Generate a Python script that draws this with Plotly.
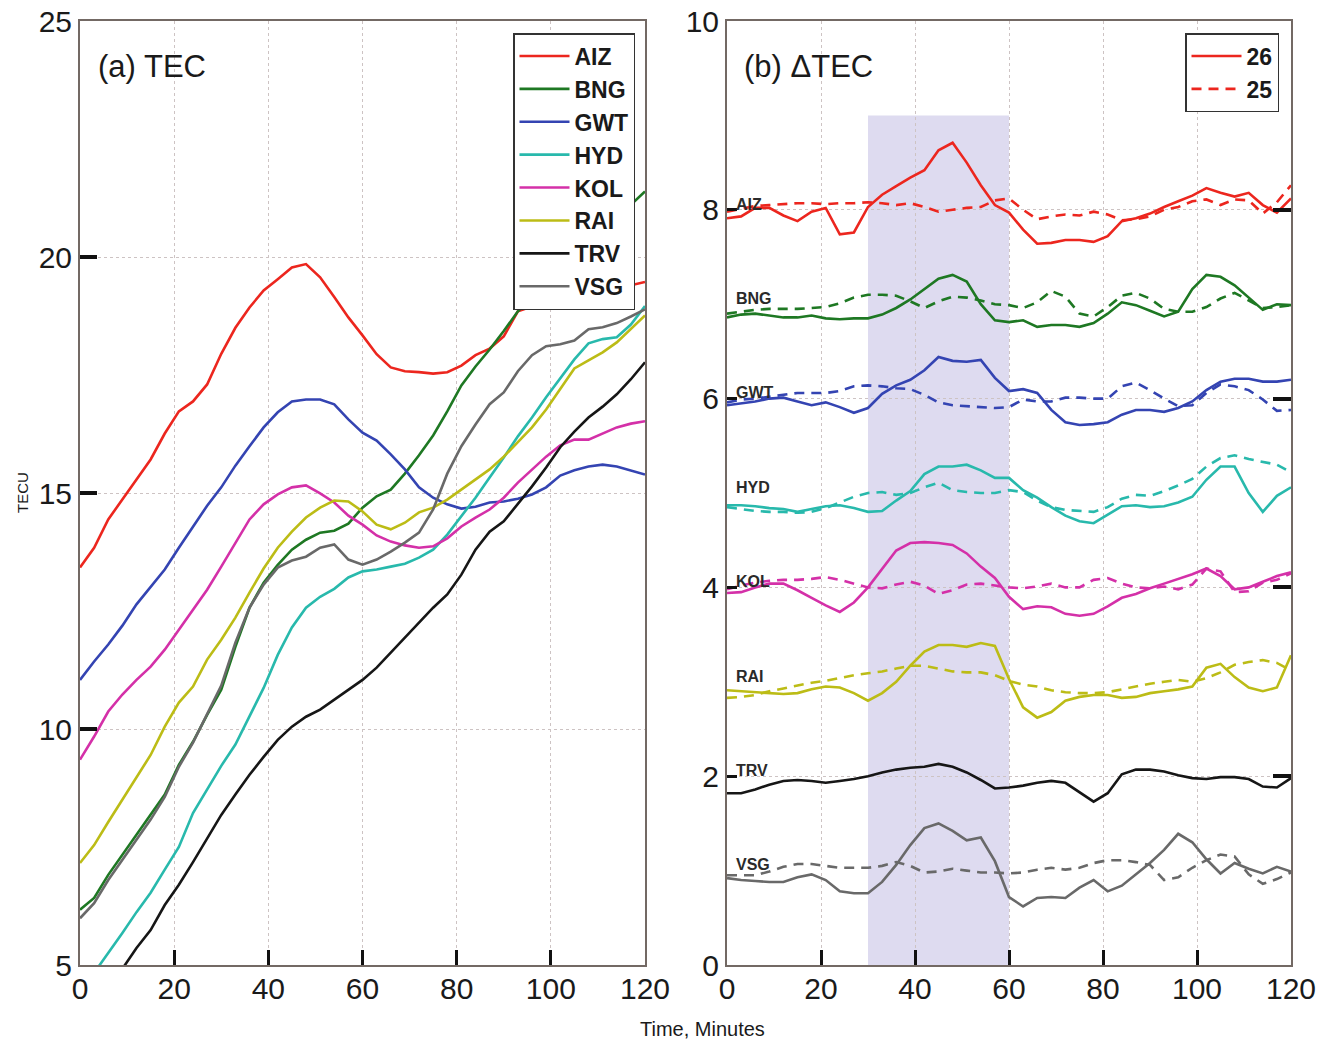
import plotly.graph_objects as go

# ---------------- data ----------------
time_min = list(range(0, 121, 3))  # minutes

stations = ["AIZ", "BNG", "GWT", "HYD", "KOL", "RAI", "TRV", "VSG"]
station_colors = ["rgb(236,38,30)", "rgb(30,120,35)", "rgb(52,68,178)", "rgb(40,185,172)",
                  "rgb(212,48,168)", "rgb(188,188,22)", "rgb(22,22,22)", "rgb(105,105,105)"]

# (a) TEC, TECU
tec_aiz = [13.42, 13.84, 14.44, 14.86, 15.27, 15.71, 16.26, 16.73, 16.94, 17.30, 17.95,
           18.50, 18.93, 19.29, 19.53, 19.78, 19.85, 19.57, 19.15, 18.72, 18.34,
           17.94, 17.66, 17.58, 17.56, 17.53, 17.56, 17.70, 17.92, 18.06, 18.32,
           18.85, 18.95, 19.02, 19.08, 19.14, 19.20, 19.27, 19.33, 19.40, 19.47]
tec_bng = [6.17, 6.42, 6.91, 7.33, 7.76, 8.18, 8.61, 9.24, 9.73, 10.30, 10.83,
           11.74, 12.57, 13.10, 13.48, 13.80, 14.01, 14.16, 14.20, 14.35, 14.69,
           14.93, 15.07, 15.41, 15.80, 16.22, 16.73, 17.28, 17.68, 18.04, 18.43,
           18.85, 19.13, 19.41, 19.70, 19.98, 20.26, 20.54, 20.83, 21.11, 21.39]
tec_gwt = [11.04, 11.43, 11.79, 12.19, 12.64, 13.02, 13.38, 13.84, 14.29, 14.73, 15.12,
           15.58, 15.99, 16.39, 16.71, 16.94, 16.98, 16.98, 16.88, 16.56, 16.28,
           16.11, 15.82, 15.50, 15.12, 14.90, 14.76, 14.67, 14.71, 14.80, 14.82,
           14.88, 14.97, 15.12, 15.37, 15.48, 15.56, 15.60, 15.56, 15.48, 15.39]
tec_hyd = [4.41, 4.83, 5.25, 5.68, 6.12, 6.53, 7.02, 7.50, 8.22, 8.71, 9.22,
           9.67, 10.26, 10.87, 11.57, 12.15, 12.57, 12.80, 12.97, 13.21, 13.34,
           13.38, 13.44, 13.50, 13.63, 13.80, 14.12, 14.52, 14.90, 15.33, 15.75,
           16.20, 16.60, 17.03, 17.43, 17.83, 18.17, 18.26, 18.30, 18.57, 18.96]
tec_kol = [9.35, 9.84, 10.37, 10.73, 11.04, 11.32, 11.68, 12.10, 12.53, 12.95, 13.44,
           13.95, 14.44, 14.76, 14.97, 15.12, 15.16, 14.99, 14.80, 14.52, 14.33,
           14.10, 13.97, 13.89, 13.84, 13.87, 14.04, 14.29, 14.48, 14.65, 14.90,
           15.22, 15.50, 15.77, 16.01, 16.13, 16.13, 16.26, 16.39, 16.47, 16.52]
tec_rai = [7.16, 7.54, 8.03, 8.50, 8.97, 9.45, 10.05, 10.56, 10.90, 11.47, 11.89,
           12.36, 12.89, 13.40, 13.84, 14.18, 14.48, 14.69, 14.84, 14.82, 14.61,
           14.33, 14.23, 14.37, 14.59, 14.69, 14.86, 15.07, 15.29, 15.50, 15.77,
           16.07, 16.39, 16.77, 17.20, 17.64, 17.81, 17.98, 18.19, 18.47, 18.76]
tec_trv = [3.77, 4.15, 4.53, 4.92, 5.36, 5.74, 6.27, 6.70, 7.18, 7.69, 8.18,
           8.61, 9.03, 9.41, 9.77, 10.05, 10.26, 10.41, 10.62, 10.83, 11.04,
           11.30, 11.62, 11.94, 12.27, 12.57, 12.85, 13.27, 13.80, 14.18, 14.40,
           14.76, 15.14, 15.54, 15.97, 16.30, 16.60, 16.83, 17.09, 17.41, 17.77]
tec_vsg = [5.99, 6.31, 6.80, 7.23, 7.65, 8.08, 8.56, 9.20, 9.71, 10.30, 10.92,
           11.83, 12.57, 13.06, 13.42, 13.57, 13.65, 13.84, 13.91, 13.59, 13.48,
           13.59, 13.76, 13.95, 14.16, 14.65, 15.41, 15.99, 16.45, 16.88, 17.13,
           17.58, 17.92, 18.11, 18.15, 18.23, 18.47, 18.51, 18.60, 18.74, 18.89]

# (b) dTEC, offset per station; day 26 (solid) and day 25 (dashed)
dtec_offsets = [8, 7, 6, 5, 4, 3, 2, 1]

d26_aiz = [7.91, 7.93, 8.02, 8.02, 7.94, 7.88, 7.98, 8.02, 7.74, 7.76, 8.03,
           8.16, 8.25, 8.34, 8.42, 8.63, 8.71, 8.50, 8.26, 8.05, 7.97,
           7.79, 7.64, 7.65, 7.68, 7.68, 7.66, 7.72, 7.88, 7.91, 7.96,
           8.03, 8.09, 8.15, 8.23, 8.18, 8.14, 8.18, 8.05, 7.97, 8.12]
d25_aiz = [7.98, 8.01, 8.04, 8.05, 8.06, 8.07, 8.07, 8.06, 8.07, 8.07, 8.08,
           8.07, 8.05, 8.07, 8.03, 7.98, 8.00, 8.02, 8.03, 8.10, 8.12,
           8.00, 7.90, 7.93, 7.95, 7.94, 7.98, 7.95, 7.89, 7.90, 7.93,
           8.00, 8.03, 8.09, 8.11, 8.05, 8.11, 8.10, 7.96, 8.08, 8.26]
d26_bng = [6.86, 6.89, 6.90, 6.88, 6.86, 6.86, 6.88, 6.85, 6.84, 6.85, 6.85,
           6.89, 6.96, 7.05, 7.16, 7.27, 7.31, 7.24, 7.00, 6.83, 6.81,
           6.83, 6.76, 6.78, 6.78, 6.76, 6.80, 6.90, 7.02, 6.99, 6.93,
           6.87, 6.92, 7.16, 7.31, 7.29, 7.20, 7.07, 6.94, 7.00, 6.99]
d25_bng = [6.90, 6.92, 6.94, 6.95, 6.95, 6.95, 6.96, 6.97, 7.01, 7.07, 7.10,
           7.10, 7.09, 7.03, 6.96, 7.03, 7.08, 7.07, 7.04, 7.00, 6.99,
           6.96, 7.02, 7.14, 7.08, 6.90, 6.87, 6.97, 7.09, 7.12, 7.06,
           6.95, 6.92, 6.92, 6.97, 7.06, 7.12, 7.04, 6.96, 6.97, 6.99]
d26_gwt = [5.93, 5.95, 5.97, 6.00, 6.01, 5.97, 5.93, 5.96, 5.91, 5.85, 5.90,
           6.05, 6.14, 6.20, 6.30, 6.44, 6.40, 6.39, 6.41, 6.22, 6.08,
           6.10, 6.06, 5.88, 5.75, 5.72, 5.73, 5.75, 5.83, 5.88, 5.88,
           5.86, 5.90, 5.97, 6.09, 6.18, 6.21, 6.21, 6.18, 6.18, 6.20]
d25_gwt = [5.96, 5.99, 6.00, 6.02, 6.04, 6.06, 6.06, 6.06, 6.08, 6.13, 6.14,
           6.13, 6.11, 6.10, 6.04, 5.96, 5.93, 5.92, 5.91, 5.90, 5.91,
           5.99, 5.97, 5.97, 6.01, 6.01, 6.00, 6.00, 6.13, 6.17, 6.09,
           6.00, 5.92, 5.93, 6.06, 6.15, 6.13, 6.09, 5.99, 5.87, 5.88]
d26_hyd = [4.87, 4.87, 4.86, 4.84, 4.83, 4.80, 4.83, 4.86, 4.87, 4.84, 4.80,
           4.81, 4.92, 5.02, 5.20, 5.28, 5.28, 5.30, 5.24, 5.16, 5.16,
           5.03, 4.95, 4.85, 4.76, 4.70, 4.68, 4.77, 4.86, 4.87, 4.85,
           4.86, 4.90, 4.96, 5.14, 5.28, 5.28, 5.00, 4.80, 4.97, 5.06]
d25_hyd = [4.85, 4.83, 4.81, 4.80, 4.80, 4.79, 4.80, 4.84, 4.90, 4.96, 5.00,
           5.01, 4.98, 5.00, 5.06, 5.11, 5.03, 5.01, 5.00, 5.00, 5.03,
           5.01, 4.92, 4.85, 4.82, 4.81, 4.80, 4.85, 4.94, 4.98, 4.97,
           5.02, 5.08, 5.15, 5.28, 5.37, 5.40, 5.36, 5.33, 5.30, 5.22]
d26_kol = [3.94, 3.95, 4.00, 4.04, 4.04, 3.97, 3.89, 3.81, 3.74, 3.84, 4.00,
           4.20, 4.39, 4.47, 4.48, 4.47, 4.45, 4.36, 4.22, 4.10, 3.90,
           3.77, 3.80, 3.79, 3.72, 3.70, 3.72, 3.80, 3.89, 3.93, 3.99,
           4.04, 4.09, 4.14, 4.20, 4.12, 3.98, 4.00, 4.06, 4.12, 4.16]
d25_kol = [3.98, 4.02, 4.05, 4.07, 4.08, 4.08, 4.09, 4.11, 4.08, 4.04, 4.00,
           3.99, 4.03, 4.06, 4.02, 3.93, 3.97, 4.03, 4.04, 4.02, 4.00,
           3.99, 4.01, 4.04, 4.00, 4.00, 4.08, 4.10, 4.04, 4.00, 3.99,
           4.01, 3.98, 4.03, 4.20, 4.17, 3.95, 3.96, 4.05, 4.08, 4.15]
d26_rai = [2.91, 2.90, 2.89, 2.88, 2.87, 2.88, 2.92, 2.95, 2.94, 2.88, 2.80,
           2.88, 3.00, 3.17, 3.32, 3.39, 3.39, 3.37, 3.41, 3.38, 3.03,
           2.73, 2.62, 2.68, 2.80, 2.84, 2.86, 2.86, 2.83, 2.84, 2.88,
           2.90, 2.92, 2.95, 3.15, 3.19, 3.05, 2.94, 2.90, 2.94, 3.28]
d25_rai = [2.83, 2.84, 2.86, 2.90, 2.93, 2.96, 2.99, 3.01, 3.04, 3.07, 3.09,
           3.11, 3.14, 3.17, 3.17, 3.14, 3.11, 3.10, 3.10, 3.07, 3.01,
           2.97, 2.95, 2.91, 2.89, 2.88, 2.88, 2.89, 2.92, 2.95, 2.98,
           3.00, 3.02, 3.00, 3.04, 3.10, 3.18, 3.21, 3.23, 3.20, 3.12]
d26_trv = [1.82, 1.82, 1.86, 1.91, 1.95, 1.96, 1.95, 1.93, 1.95, 1.97, 2.00,
           2.04, 2.07, 2.09, 2.10, 2.13, 2.10, 2.04, 1.96, 1.87, 1.88,
           1.90, 1.93, 1.95, 1.93, 1.83, 1.73, 1.82, 2.02, 2.07, 2.07,
           2.05, 2.01, 1.98, 1.97, 1.99, 1.99, 1.97, 1.89, 1.88, 1.98]
d26_vsg = [0.92, 0.90, 0.89, 0.88, 0.88, 0.93, 0.96, 0.90, 0.78, 0.76, 0.76,
           0.88, 1.06, 1.27, 1.45, 1.50, 1.42, 1.32, 1.35, 1.10, 0.72,
           0.62, 0.71, 0.72, 0.71, 0.82, 0.90, 0.78, 0.84, 0.96, 1.08,
           1.22, 1.39, 1.30, 1.12, 0.97, 1.08, 1.02, 0.97, 1.04, 0.99]
d25_vsg = [0.95, 0.95, 0.95, 0.99, 1.04, 1.07, 1.07, 1.05, 1.03, 1.03, 1.03,
           1.05, 1.09, 1.05, 0.98, 0.99, 1.02, 1.00, 0.98, 0.98, 0.97,
           0.98, 1.01, 1.03, 1.01, 1.03, 1.08, 1.11, 1.11, 1.09, 1.06,
           0.90, 0.93, 1.03, 1.11, 1.17, 1.15, 0.96, 0.86, 0.91, 0.98]

tec_series = [tec_aiz, tec_bng, tec_gwt, tec_hyd, tec_kol, tec_rai, tec_trv, tec_vsg]
d26_series = [d26_aiz, d26_bng, d26_gwt, d26_hyd, d26_kol, d26_rai, d26_trv, d26_vsg]
d25_series = [d25_aiz, d25_bng, d25_gwt, d25_hyd, d25_kol, d25_rai, None, d25_vsg]

shade_start, shade_end, shade_top = 30, 60, 9

# ---------------- figure ----------------
W, H = 1329, 1044
fig = go.Figure()

for name, col, ys in zip(stations, station_colors, tec_series):
    fig.add_trace(go.Scatter(x=time_min, y=ys, mode="lines", name=name,
                             line=dict(color=col, width=2.6),
                             xaxis="x", yaxis="y", legend="legend"))

for i, (name, col) in enumerate(zip(stations, station_colors)):
    d25 = d25_series[i]
    if d25 is not None:
        fig.add_trace(go.Scatter(x=time_min, y=d25, mode="lines", name="25",
                                 line=dict(color=col, width=2.6, dash="10px,7px"),
                                 xaxis="x2", yaxis="y2", legend="legend2",
                                 showlegend=(i == 0)))
    fig.add_trace(go.Scatter(x=time_min, y=d26_series[i], mode="lines", name="26",
                             line=dict(color=col, width=2.6),
                             xaxis="x2", yaxis="y2", legend="legend2",
                             showlegend=(i == 0)))

FONT = "Liberation Sans, Arial, sans-serif"

# station labels in panel (b)
for name, off in zip(stations, dtec_offsets):
    fig.add_annotation(x=1.5, y=off + 0.06, xref="x2", yref="y2", text=name,
                       showarrow=False, xanchor="left", yanchor="middle",
                       font=dict(family=FONT, size=16, color="#2a2a2a", weight="bold"))

# shaded window
fig.add_shape(type="rect", xref="x2", yref="y2", x0=shade_start, x1=shade_end,
              y0=0, y1=shade_top, fillcolor="rgb(222,219,240)",
              line=dict(width=0), layer="below")

axis_line = "rgb(115,105,100)"
grid_col = "rgb(205,195,195)"

left_dom_x = [80 / W, 645 / W]
right_dom_x = [727 / W, 1291 / W]
dom_y = [(H - 965) / H, (H - 21) / H]

common_x = dict(range=[0, 120], tickvals=[0, 20, 40, 60, 80, 100, 120],
                ticks="inside", ticklen=15, tickwidth=3, tickcolor="#111",
                showline=True, linecolor=axis_line, linewidth=2, mirror=True,
                showgrid=True, gridcolor=grid_col, griddash="dot", gridwidth=1,
                zeroline=False, automargin=False, ticklabelstandoff=-4,
                tickfont=dict(family=FONT, size=30, color="#1a1a1a"))

fig.update_layout(
    width=W, height=H,
    margin=dict(l=0, r=0, t=0, b=0),
    paper_bgcolor="white", plot_bgcolor="white",
    xaxis=dict(domain=left_dom_x, anchor="y", **common_x),
    xaxis2=dict(domain=right_dom_x, anchor="y2", **common_x),
    yaxis=dict(domain=dom_y, anchor="x", range=[5, 25], tickvals=[5, 10, 15, 20, 25],
               ticks="inside", ticklen=17, tickwidth=3.5, tickcolor="#111",
               showline=True, linecolor=axis_line, linewidth=2, mirror=True,
               showgrid=True, gridcolor=grid_col, griddash="dot", gridwidth=1,
               zeroline=False, automargin=False,
               tickfont=dict(family=FONT, size=30, color="#1a1a1a")),
    yaxis2=dict(domain=dom_y, anchor="x2", range=[0, 10], tickvals=[0, 2, 4, 6, 8, 10],
                ticks="inside", ticklen=10, tickwidth=3, tickcolor="#111",
                showline=True, linecolor=axis_line, linewidth=2, mirror=True,
                showgrid=True, gridcolor=grid_col, griddash="dot", gridwidth=1,
                zeroline=False, automargin=False,
                tickfont=dict(family=FONT, size=30, color="#1a1a1a")),
    yaxis3=dict(overlaying="y2", side="right", anchor="x2", range=[0, 10],
                tickvals=[2, 4, 6, 8], ticks="inside", ticklen=18, tickwidth=3.5,
                tickcolor="#111", showticklabels=False, showgrid=False,
                showline=False, zeroline=False, automargin=False),
    legend=dict(x=513 / W, y=(H - 33) / H, xanchor="left", yanchor="top",
                bgcolor="white", bordercolor="#333", borderwidth=1.5,
                itemwidth=50,
                font=dict(family=FONT, size=23, color="#1a1a1a", weight="bold"),
                tracegroupgap=0),
    legend2=dict(x=1185 / W, y=(H - 33) / H, xanchor="left", yanchor="top",
                 bgcolor="white", bordercolor="#333", borderwidth=1.5,
                 traceorder="reversed", itemwidth=50,
                 font=dict(family=FONT, size=23, color="#1a1a1a", weight="bold"),
                 tracegroupgap=0),
    showlegend=True,
)

# dummy trace so yaxis3 renders
fig.add_trace(go.Scatter(x=[None], y=[None], xaxis="x2", yaxis="y3",
                         showlegend=False, hoverinfo="skip"))

# panel titles and axis titles
fig.add_annotation(x=96 / W, y=(H - 67) / H, xref="paper", yref="paper",
                   text="(a) TEC", showarrow=False, xanchor="left", yanchor="middle",
                   font=dict(family=FONT, size=31, color="#1a1a1a"))
fig.add_annotation(x=742 / W, y=(H - 67) / H, xref="paper", yref="paper",
                   text="(b) \u0394TEC", showarrow=False, xanchor="left", yanchor="middle",
                   font=dict(family=FONT, size=31, color="#1a1a1a"))
fig.add_annotation(x=22 / W, y=(H - 493) / H, xref="paper", yref="paper",
                   text="TECU", textangle=-90, showarrow=False,
                   xanchor="center", yanchor="middle",
                   font=dict(family=FONT, size=15, color="#1a1a1a"))
fig.add_annotation(x=702 / W, y=(H - 1029) / H, xref="paper", yref="paper",
                   text="Time, Minutes", showarrow=False,
                   xanchor="center", yanchor="middle",
                   font=dict(family=FONT, size=20, color="#1a1a1a"))

fig.write_html("out.html")
